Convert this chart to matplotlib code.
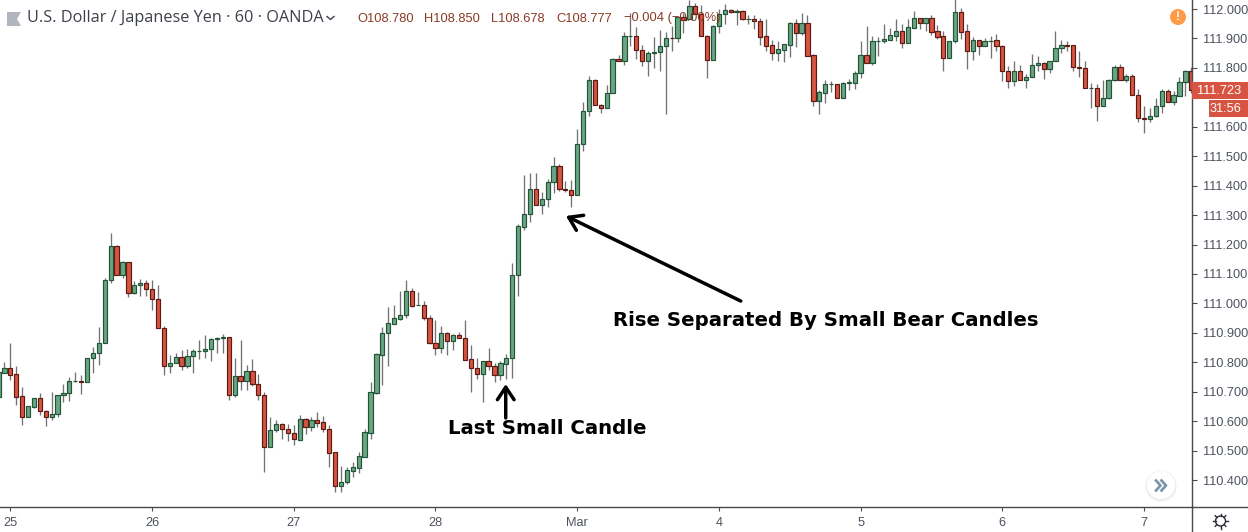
from matplotlib import pyplot as plt
from matplotlib.patches import Circle, Polygon, Rectangle
import numpy as np

opens = [110.683,110.765,110.779,110.759,110.684,110.613,110.649,110.677,110.633,110.613,
    110.626,110.688,110.694,110.735,110.735,110.732,110.813,110.830,110.864,111.078,
    111.194,111.098,111.139,111.037,111.061,111.068,111.048,111.014,110.918,110.789,
    110.796,110.817,110.789,110.823,110.837,110.840,110.844,110.878,110.881,110.885,
    110.688,110.752,110.735,110.769,110.725,110.688,110.511,110.569,110.589,110.572,
    110.559,110.537,110.606,110.581,110.603,110.596,110.575,110.494,110.381,110.394,
    110.432,110.442,110.479,110.561,110.697,110.826,110.898,110.931,110.948,110.959,
    111.041,110.993,110.996,110.952,110.867,110.849,110.898,110.873,110.891,110.884,
    110.810,110.782,110.761,110.806,110.789,110.758,110.795,110.815,111.097,111.261,
    111.303,111.388,111.334,111.354,111.412,111.466,111.388,111.385,111.368,111.541,
    111.653,111.758,111.673,111.663,111.714,111.830,111.822,111.908,111.908,111.862,
    111.822,111.850,111.853,111.874,111.902,111.900,111.972,111.965,112.009,111.982,
    111.908,111.826,111.942,111.982,111.996,111.990,111.992,111.965,111.966,111.959,
    111.907,111.877,111.849,111.862,111.879,111.952,111.920,111.952,111.843,111.686,
    111.716,111.745,111.745,111.699,111.748,111.750,111.781,111.843,111.815,111.891,
    111.891,111.896,111.910,111.925,111.886,111.937,111.969,111.954,111.969,111.925,
    111.908,111.832,111.890,111.989,111.925,111.856,111.894,111.874,111.892,111.894,
    111.874,111.789,111.755,111.789,111.758,111.768,111.809,111.816,111.796,111.823,
    111.866,111.877,111.877,111.802,111.799,111.731,111.731,111.672,111.697,111.758,
    111.802,111.758,111.772,111.707,111.629,111.626,111.636,111.670,111.721,111.683,111.706,111.751,111.789]
highs = [110.774,110.800,110.864,110.787,110.715,110.650,110.677,110.695,110.638,110.698,
    110.688,110.726,110.749,110.766,110.757,110.813,110.852,110.920,111.085,111.238,
    111.198,111.144,111.139,111.076,111.083,111.078,111.078,111.062,110.923,110.825,
    110.830,110.842,110.845,110.844,110.875,110.892,110.882,110.886,110.896,110.885,
    110.814,110.875,110.791,110.811,110.760,110.698,110.614,110.604,110.594,110.589,
    110.587,110.621,110.610,110.613,110.630,110.617,110.587,110.494,110.447,110.443,
    110.461,110.495,110.573,110.733,110.833,110.919,110.987,110.994,111.042,111.079,
    111.052,111.038,111.008,110.960,110.943,110.923,110.902,110.896,110.902,110.943,
    110.858,110.816,110.806,110.850,110.797,110.803,110.828,111.136,111.270,111.437,
    111.443,111.443,111.379,111.422,111.498,111.474,111.416,111.420,111.593,111.685,
    111.773,111.762,111.678,111.742,111.833,111.844,111.923,111.986,111.938,111.878,
    111.856,111.906,111.927,111.923,111.943,111.974,111.986,112.031,112.020,112.014,
    111.912,111.946,112.000,112.017,112.000,112.000,111.997,111.980,111.980,111.969,
    111.966,111.895,111.891,111.880,111.955,111.966,111.987,111.980,111.848,111.724,
    111.759,111.756,111.745,111.751,111.763,111.790,111.892,111.943,111.909,111.905,
    111.949,111.934,111.966,111.949,111.966,111.994,111.969,111.969,111.980,111.946,
    111.926,111.891,112.035,112.004,111.949,111.905,111.894,111.902,111.909,111.916,
    111.878,111.807,111.824,111.810,111.779,111.848,111.841,111.820,111.824,111.926,
    111.895,111.893,111.877,111.858,111.824,111.748,111.746,111.759,111.762,111.810,
    111.814,111.780,111.780,111.729,111.671,111.663,111.697,111.728,111.728,111.721,111.768,111.793,111.802]
lows = [110.683,110.765,110.740,110.655,110.588,110.613,110.645,110.621,110.583,110.604,
    110.615,110.665,110.668,110.734,110.692,110.732,110.763,110.791,110.864,111.070,
    111.098,111.086,111.022,111.032,111.025,111.025,110.977,110.918,110.757,110.763,
    110.796,110.774,110.780,110.763,110.811,110.814,110.804,110.831,110.831,110.672,
    110.682,110.705,110.706,110.720,110.672,110.427,110.511,110.563,110.539,110.532,
    110.519,110.537,110.557,110.566,110.581,110.564,110.445,110.359,110.359,110.387,
    110.410,110.424,110.479,110.539,110.693,110.722,110.787,110.931,110.944,110.950,
    110.989,110.993,110.944,110.862,110.824,110.831,110.824,110.841,110.883,110.808,
    110.699,110.744,110.665,110.773,110.733,110.739,110.743,110.746,111.025,111.250,
    111.278,111.334,111.302,111.327,111.376,111.383,111.378,111.329,111.368,111.519,
    111.635,111.673,111.648,111.663,111.714,111.822,111.810,111.876,111.831,111.808,
    111.771,111.800,111.791,111.645,111.859,111.889,111.918,111.965,111.982,111.908,
    111.764,111.826,111.918,111.949,111.987,111.944,111.961,111.949,111.933,111.878,
    111.858,111.827,111.824,111.820,111.837,111.871,111.912,111.842,111.671,111.644,
    111.682,111.717,111.699,111.699,111.725,111.729,111.766,111.815,111.810,111.841,
    111.885,111.896,111.892,111.868,111.886,111.937,111.933,111.925,111.912,111.899,
    111.790,111.832,111.885,111.899,111.797,111.827,111.844,111.874,111.834,111.858,
    111.756,111.730,111.739,111.758,111.732,111.768,111.789,111.763,111.784,111.823,
    111.850,111.859,111.788,111.768,111.731,111.665,111.621,111.672,111.696,111.754,
    111.758,111.753,111.707,111.617,111.580,111.617,111.633,111.648,111.683,111.673,111.706,111.703,111.714]
closes = [110.766,110.779,110.758,110.683,110.613,110.650,110.677,110.633,110.613,110.626,
    110.688,110.694,110.735,110.736,110.732,110.813,110.830,110.864,111.078,111.194,
    111.098,111.139,111.037,111.061,111.068,111.048,111.014,110.918,110.789,110.796,
    110.817,110.789,110.823,110.837,110.840,110.844,110.878,110.881,110.885,110.688,
    110.752,110.735,110.769,110.725,110.688,110.511,110.569,110.589,110.572,110.559,
    110.538,110.606,110.581,110.603,110.595,110.574,110.493,110.381,110.395,110.433,
    110.443,110.480,110.562,110.698,110.827,110.898,110.932,110.949,110.959,111.041,
    110.992,110.996,110.952,110.866,110.849,110.898,110.873,110.891,110.883,110.809,
    110.781,110.761,110.806,110.788,110.758,110.796,110.816,111.098,111.264,111.303,
    111.388,111.334,111.354,111.412,111.466,111.388,111.385,111.368,111.541,111.653,
    111.758,111.673,111.663,111.714,111.830,111.822,111.908,111.909,111.862,111.822,
    111.850,111.853,111.874,111.901,111.900,111.972,111.964,112.009,111.982,111.908,
    111.826,111.942,111.982,111.996,111.989,111.992,111.965,111.966,111.959,111.906,
    111.876,111.849,111.863,111.880,111.952,111.920,111.952,111.842,111.686,111.717,
    111.745,111.746,111.699,111.748,111.751,111.782,111.843,111.815,111.891,111.892,
    111.897,111.911,111.925,111.886,111.938,111.969,111.954,111.969,111.923,111.906,
    111.832,111.891,111.989,111.923,111.856,111.894,111.874,111.891,111.893,111.874,
    111.789,111.756,111.790,111.758,111.768,111.809,111.816,111.796,111.823,111.867,
    111.877,111.876,111.802,111.799,111.731,111.732,111.672,111.697,111.759,111.802,
    111.758,111.773,111.707,111.629,111.626,111.636,111.669,111.721,111.683,111.707,111.751,111.789,111.724]

day_ticks = [2, 26, 50, 74, 98, 122, 146, 170, 194]
day_labels = ["25", "26", "27", "28", "Mar", "4", "5", "6", "7"]
# 111.700 sits behind the last price tag in the original, so it is left out
price_ticks = [112.0, 111.9, 111.8, 111.6, 111.5, 111.4, 111.3, 111.2,
               111.1, 111.0, 110.9, 110.8, 110.7, 110.6, 110.5, 110.4]
last_price = "111.723"
countdown = "31:56"
title = "U.S. Dollar / Japanese Yen \u00b7 60 \u00b7 OANDA"
ohlc_labels = ["O108.780", "H108.850", "L108.678", "C108.777", "\u22120.004 (\u22120.00%)"]

UP = "#6BA583"
DOWN = "#D75442"
UP_EDGE = "#225437"
DOWN_EDGE = "#5B1A13"
WICK = "#737375"
AXIS = "#4a4a4a"
LABEL = "#4c525e"
W, H = 1248, 532
RIGHT, BOTTOM = 1192, 507

plt.rcParams["font.family"] = ["Liberation Sans", "DejaVu Sans"]
fig = plt.figure(figsize=(W / 100, H / 100), dpi=100)
ax = fig.add_axes([0, 1 - BOTTOM / H, RIGHT / W, BOTTOM / H])

o = np.array(opens)
c = np.array(closes)
x = np.arange(len(o))
is_up = c >= o

ax.vlines(x, lows, highs, color=WICK, lw=0.95, zorder=1)
ax.bar(x, c - o, bottom=o, width=0.72,
       color=[UP if u else DOWN for u in is_up],
       edgecolor=[UP_EDGE if u else DOWN_EDGE for u in is_up],
       linewidth=0.85, zorder=2)

ax.set_xlim(0.254, 202.12)
ax.set_ylim(110.3084, 112.0306)
ax.set_xticks(day_ticks)
ax.set_xticklabels(day_labels)
ax.set_yticks(price_ticks)
ax.set_yticklabels([f"{p:.3f}" for p in price_ticks])
ax.yaxis.tick_right()
ax.tick_params(axis="x", length=3, width=0.8, color=AXIS, labelcolor=LABEL, labelsize=9.2, pad=4)
ax.tick_params(axis="y", length=3.5, width=0.8, color=AXIS, labelcolor=LABEL, labelsize=9.2, pad=4.5)
for side in ["top", "left"]:
    ax.spines[side].set_visible(False)
for side in ["right", "bottom"]:
    ax.spines[side].set_color(AXIS)
    ax.spines[side].set_linewidth(1.0)

# annotations on the chart
arrow = dict(arrowstyle="->,head_length=0.9,head_width=0.6", color="black", lw=2.5, shrinkA=0, shrinkB=0)
ax.annotate("", xy=(96.1, 111.297), xytext=(125.7, 111.008), arrowprops=arrow, zorder=5)
ax.annotate("", xy=(85.9, 110.726), xytext=(85.9, 110.611), arrowprops=arrow, zorder=5)
ax.text(92.9, 110.574, "Last Small Candle", family="DejaVu Sans", weight="bold",
        fontsize=14.25, ha="center", va="center", zorder=6)
ax.text(140.1, 110.941, "Rise Separated By Small Bear Candles", family="DejaVu Sans", weight="bold",
        fontsize=14.25, ha="center", va="center", zorder=6)

# overlay in pixel units for the chart furniture
ov = fig.add_axes([0, 0, 1, 1], facecolor="none")
ov.set_xlim(0, W)
ov.set_ylim(H, 0)
ov.axis("off")

ov.plot([RIGHT, RIGHT], [BOTTOM, H], color=AXIS, lw=1.0)
ov.plot([RIGHT, W], [BOTTOM, BOTTOM], color=AXIS, lw=1.0)

ov.add_patch(Polygon([(7, 12), (21, 12), (17, 19), (21, 26), (7, 26)], color="#b2b5be", lw=0))
ov.text(27, 18.5, title, family="Open Sans", fontsize=11.7, color="#3c4048", va="center")
ov.plot([327, 330.5, 334], [16.5, 19.5, 16.5], color="#3c4048", lw=1)
for px, label in zip([357, 424, 491, 556, 624], ohlc_labels):
    ov.text(px, 18.5, label, fontsize=9.3, color="#8a3a26", va="center", zorder=5)

ov.add_patch(Rectangle((RIGHT, 82), W - RIGHT, 16.5, color=DOWN, lw=0))
ov.text(1241, 90.5, last_price, fontsize=9.2, color="white", ha="right", va="center")
ov.add_patch(Rectangle((1209, 100), W - 1209, 17, color=DOWN, lw=0))
ov.text(1241, 108.5, countdown, fontsize=9.2, color="white", ha="right", va="center")

ov.add_patch(Circle((1178, 17), 8, color="#FF9A47", lw=0))
ov.text(1178, 17, "!", fontsize=8.5, weight="bold", color="white", ha="center", va="center")

ov.add_patch(Circle((1161, 486), 15.5, color="#eeeeee", lw=0))
ov.add_patch(Circle((1161, 485), 14, color="white", lw=0))
for dx in [0, 5.5]:
    ov.plot([1156 + dx, 1160.5 + dx, 1156 + dx], [480.5, 485.5, 490.5], color="#7a93a8", lw=1.9)

ov.add_patch(Circle((1220.5, 521), 5, fill=False, ec="#2a2e39", lw=1))
for ang in np.arange(0, 2 * np.pi, np.pi / 4):
    ov.plot([1220.5 + 5 * np.cos(ang), 1220.5 + 7.5 * np.cos(ang)],
            [521 + 5 * np.sin(ang), 521 + 7.5 * np.sin(ang)], color="#2a2e39", lw=1)

fig.savefig("out.png", dpi=100)
